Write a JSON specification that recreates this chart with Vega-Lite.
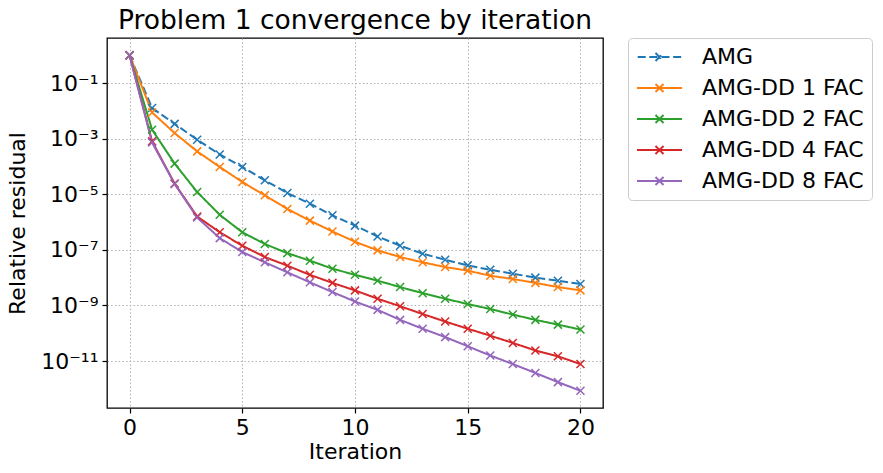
{
  "$schema": "https://vega.github.io/schema/vega-lite/v6.json",
  "width": 496,
  "height": 370,
  "autosize": {"type": "none"},
  "padding": {"left": 107, "top": 38, "right": 280, "bottom": 65},
  "background": "white",
  "title": {"text": "Problem 1 convergence by iteration", "fontSize": 26.5, "font": "DejaVu Sans", "fontWeight": "normal", "color": "black", "offset": 3, "anchor": "middle"},
  "config": {
    "font": "DejaVu Sans",
    "view": {"stroke": "black", "strokeWidth": 1.3},
    "axis": {
      "domain": false,
      "grid": true,
      "gridColor": "#b0b0b0",
      "gridDash": [1.5, 2.2],
      "gridWidth": 1,
      "tickColor": "black",
      "tickSize": 5,
      "tickWidth": 1.2,
      "labelFont": "DejaVu Sans",
      "labelFontSize": 22,
      "labelColor": "black",
      "titleFont": "DejaVu Sans",
      "titleFontSize": 22,
      "titleFontWeight": "normal",
      "titleColor": "black",
      "labelPadding": 4
    },
    "legend": {
      "orient": "none",
      "legendX": 521,
      "legendY": 0,
      "labelFont": "DejaVu Sans",
      "labelFontSize": 22,
      "labelColor": "black",
      "labelLimit": 400,
      "padding": 8,
      "rowPadding": 9,
      "strokeColor": "#cccccc",
      "cornerRadius": 4,
      "fillColor": "white",
      "symbolSize": 400,
      "symbolStrokeWidth": 2,
      "symbolFillColor": "transparent",
      "labelOffset": 44
    }
  },
  "data": {
    "values": [
      {"iteration": 0, "method": "AMG", "residual": 1},
      {"iteration": 1, "method": "AMG", "residual": 1.26e-2},
      {"iteration": 2, "method": "AMG", "residual": 3.39e-3},
      {"iteration": 3, "method": "AMG", "residual": 9.12e-4},
      {"iteration": 4, "method": "AMG", "residual": 2.69e-4},
      {"iteration": 5, "method": "AMG", "residual": 9.55e-5},
      {"iteration": 6, "method": "AMG", "residual": 3.16e-5},
      {"iteration": 7, "method": "AMG", "residual": 1.10e-5},
      {"iteration": 8, "method": "AMG", "residual": 4.57e-6},
      {"iteration": 9, "method": "AMG", "residual": 1.74e-6},
      {"iteration": 10, "method": "AMG", "residual": 7.41e-7},
      {"iteration": 11, "method": "AMG", "residual": 3.02e-7},
      {"iteration": 12, "method": "AMG", "residual": 1.41e-7},
      {"iteration": 13, "method": "AMG", "residual": 7.24e-8},
      {"iteration": 14, "method": "AMG", "residual": 4.37e-8},
      {"iteration": 15, "method": "AMG", "residual": 2.75e-8},
      {"iteration": 16, "method": "AMG", "residual": 1.91e-8},
      {"iteration": 17, "method": "AMG", "residual": 1.38e-8},
      {"iteration": 18, "method": "AMG", "residual": 1.00e-8},
      {"iteration": 19, "method": "AMG", "residual": 7.76e-9},
      {"iteration": 20, "method": "AMG", "residual": 5.89e-9},
      {"iteration": 0, "method": "AMG-DD 1 FAC", "residual": 1},
      {"iteration": 1, "method": "AMG-DD 1 FAC", "residual": 8.71e-3},
      {"iteration": 2, "method": "AMG-DD 1 FAC", "residual": 1.58e-3},
      {"iteration": 3, "method": "AMG-DD 1 FAC", "residual": 3.47e-4},
      {"iteration": 4, "method": "AMG-DD 1 FAC", "residual": 9.55e-5},
      {"iteration": 5, "method": "AMG-DD 1 FAC", "residual": 2.75e-5},
      {"iteration": 6, "method": "AMG-DD 1 FAC", "residual": 9.12e-6},
      {"iteration": 7, "method": "AMG-DD 1 FAC", "residual": 2.95e-6},
      {"iteration": 8, "method": "AMG-DD 1 FAC", "residual": 1.12e-6},
      {"iteration": 9, "method": "AMG-DD 1 FAC", "residual": 4.57e-7},
      {"iteration": 10, "method": "AMG-DD 1 FAC", "residual": 1.95e-7},
      {"iteration": 11, "method": "AMG-DD 1 FAC", "residual": 9.55e-8},
      {"iteration": 12, "method": "AMG-DD 1 FAC", "residual": 5.50e-8},
      {"iteration": 13, "method": "AMG-DD 1 FAC", "residual": 3.55e-8},
      {"iteration": 14, "method": "AMG-DD 1 FAC", "residual": 2.40e-8},
      {"iteration": 15, "method": "AMG-DD 1 FAC", "residual": 1.78e-8},
      {"iteration": 16, "method": "AMG-DD 1 FAC", "residual": 1.17e-8},
      {"iteration": 17, "method": "AMG-DD 1 FAC", "residual": 8.91e-9},
      {"iteration": 18, "method": "AMG-DD 1 FAC", "residual": 6.46e-9},
      {"iteration": 19, "method": "AMG-DD 1 FAC", "residual": 4.57e-9},
      {"iteration": 20, "method": "AMG-DD 1 FAC", "residual": 3.47e-9},
      {"iteration": 0, "method": "AMG-DD 2 FAC", "residual": 1},
      {"iteration": 1, "method": "AMG-DD 2 FAC", "residual": 2.09e-3},
      {"iteration": 2, "method": "AMG-DD 2 FAC", "residual": 1.26e-4},
      {"iteration": 3, "method": "AMG-DD 2 FAC", "residual": 1.20e-5},
      {"iteration": 4, "method": "AMG-DD 2 FAC", "residual": 1.82e-6},
      {"iteration": 5, "method": "AMG-DD 2 FAC", "residual": 4.27e-7},
      {"iteration": 6, "method": "AMG-DD 2 FAC", "residual": 1.62e-7},
      {"iteration": 7, "method": "AMG-DD 2 FAC", "residual": 7.59e-8},
      {"iteration": 8, "method": "AMG-DD 2 FAC", "residual": 4.07e-8},
      {"iteration": 9, "method": "AMG-DD 2 FAC", "residual": 2.09e-8},
      {"iteration": 10, "method": "AMG-DD 2 FAC", "residual": 1.26e-8},
      {"iteration": 11, "method": "AMG-DD 2 FAC", "residual": 7.76e-9},
      {"iteration": 12, "method": "AMG-DD 2 FAC", "residual": 4.57e-9},
      {"iteration": 13, "method": "AMG-DD 2 FAC", "residual": 2.75e-9},
      {"iteration": 14, "method": "AMG-DD 2 FAC", "residual": 1.74e-9},
      {"iteration": 15, "method": "AMG-DD 2 FAC", "residual": 1.12e-9},
      {"iteration": 16, "method": "AMG-DD 2 FAC", "residual": 7.41e-10},
      {"iteration": 17, "method": "AMG-DD 2 FAC", "residual": 4.68e-10},
      {"iteration": 18, "method": "AMG-DD 2 FAC", "residual": 3.02e-10},
      {"iteration": 19, "method": "AMG-DD 2 FAC", "residual": 2.04e-10},
      {"iteration": 20, "method": "AMG-DD 2 FAC", "residual": 1.35e-10},
      {"iteration": 0, "method": "AMG-DD 4 FAC", "residual": 1},
      {"iteration": 1, "method": "AMG-DD 4 FAC", "residual": 7.94e-4},
      {"iteration": 2, "method": "AMG-DD 4 FAC", "residual": 2.40e-5},
      {"iteration": 3, "method": "AMG-DD 4 FAC", "residual": 1.58e-6},
      {"iteration": 4, "method": "AMG-DD 4 FAC", "residual": 4.27e-7},
      {"iteration": 5, "method": "AMG-DD 4 FAC", "residual": 1.41e-7},
      {"iteration": 6, "method": "AMG-DD 4 FAC", "residual": 5.50e-8},
      {"iteration": 7, "method": "AMG-DD 4 FAC", "residual": 2.69e-8},
      {"iteration": 8, "method": "AMG-DD 4 FAC", "residual": 1.26e-8},
      {"iteration": 9, "method": "AMG-DD 4 FAC", "residual": 6.46e-9},
      {"iteration": 10, "method": "AMG-DD 4 FAC", "residual": 3.47e-9},
      {"iteration": 11, "method": "AMG-DD 4 FAC", "residual": 1.74e-9},
      {"iteration": 12, "method": "AMG-DD 4 FAC", "residual": 9.33e-10},
      {"iteration": 13, "method": "AMG-DD 4 FAC", "residual": 4.90e-10},
      {"iteration": 14, "method": "AMG-DD 4 FAC", "residual": 2.63e-10},
      {"iteration": 15, "method": "AMG-DD 4 FAC", "residual": 1.45e-10},
      {"iteration": 16, "method": "AMG-DD 4 FAC", "residual": 8.13e-11},
      {"iteration": 17, "method": "AMG-DD 4 FAC", "residual": 4.47e-11},
      {"iteration": 18, "method": "AMG-DD 4 FAC", "residual": 2.40e-11},
      {"iteration": 19, "method": "AMG-DD 4 FAC", "residual": 1.48e-11},
      {"iteration": 20, "method": "AMG-DD 4 FAC", "residual": 7.76e-12},
      {"iteration": 0, "method": "AMG-DD 8 FAC", "residual": 1},
      {"iteration": 1, "method": "AMG-DD 8 FAC", "residual": 7.24e-4},
      {"iteration": 2, "method": "AMG-DD 8 FAC", "residual": 2.34e-5},
      {"iteration": 3, "method": "AMG-DD 8 FAC", "residual": 1.45e-6},
      {"iteration": 4, "method": "AMG-DD 8 FAC", "residual": 2.63e-7},
      {"iteration": 5, "method": "AMG-DD 8 FAC", "residual": 8.32e-8},
      {"iteration": 6, "method": "AMG-DD 8 FAC", "residual": 3.55e-8},
      {"iteration": 7, "method": "AMG-DD 8 FAC", "residual": 1.55e-8},
      {"iteration": 8, "method": "AMG-DD 8 FAC", "residual": 6.76e-9},
      {"iteration": 9, "method": "AMG-DD 8 FAC", "residual": 3.02e-9},
      {"iteration": 10, "method": "AMG-DD 8 FAC", "residual": 1.38e-9},
      {"iteration": 11, "method": "AMG-DD 8 FAC", "residual": 6.92e-10},
      {"iteration": 12, "method": "AMG-DD 8 FAC", "residual": 3.02e-10},
      {"iteration": 13, "method": "AMG-DD 8 FAC", "residual": 1.45e-10},
      {"iteration": 14, "method": "AMG-DD 8 FAC", "residual": 7.24e-11},
      {"iteration": 15, "method": "AMG-DD 8 FAC", "residual": 3.39e-11},
      {"iteration": 16, "method": "AMG-DD 8 FAC", "residual": 1.58e-11},
      {"iteration": 17, "method": "AMG-DD 8 FAC", "residual": 7.76e-12},
      {"iteration": 18, "method": "AMG-DD 8 FAC", "residual": 3.72e-12},
      {"iteration": 19, "method": "AMG-DD 8 FAC", "residual": 1.74e-12},
      {"iteration": 20, "method": "AMG-DD 8 FAC", "residual": 8.51e-13}
    ]
  },
  "encoding": {
    "x": {
      "field": "iteration",
      "type": "quantitative",
      "scale": {"domain": [-1, 21], "nice": false, "zero": false},
      "axis": {"values": [0, 5, 10, 15, 20], "title": "Iteration", "titlePadding": 3}
    },
    "y": {
      "field": "residual",
      "type": "quantitative",
      "scale": {"type": "log", "domain": [2.04e-13, 4.16], "nice": false},
      "axis": {
        "values": [1e-1, 1e-3, 1e-5, 1e-7, 1e-9, 1e-11],
        "title": "Relative residual",
        "titlePadding": 11,
        "labelExpr": "datum.value >= 0.09 ? '10⁻¹' : datum.value >= 9e-4 ? '10⁻³' : datum.value >= 9e-6 ? '10⁻⁵' : datum.value >= 9e-8 ? '10⁻⁷' : datum.value >= 9e-10 ? '10⁻⁹' : '10⁻¹¹'"
      }
    },
    "color": {
      "field": "method",
      "type": "nominal",
      "scale": {
        "domain": ["AMG", "AMG-DD 1 FAC", "AMG-DD 2 FAC", "AMG-DD 4 FAC", "AMG-DD 8 FAC"],
        "range": ["#1f77b4", "#ff7f0e", "#2ca02c", "#d62728", "#9467bd"]
      },
      "legend": {
        "title": null,
        "symbolType": "M-1,0L3.5,0M0.85,-0.4L1.65,0.4M0.85,0.4L1.65,-0.4",
        "encode": {
          "symbols": {
            "update": {
              "shape": {"signal": "datum.label === 'AMG' ? 'M-0.93,0L-0.1,0M0.23,0L1.07,0M1.45,0L2.28,0M2.62,0L3.42,0M0.85,-0.4L1.65,0.4M0.85,0.4L1.65,-0.4' : 'M-1,0L3.5,0M0.85,-0.4L1.65,0.4M0.85,0.4L1.65,-0.4'"}
            }
          }
        }
      }
    }
  },
  "layer": [
    {
      "mark": {"type": "line", "strokeWidth": 2},
      "encoding": {
        "strokeDash": {
          "field": "method",
          "type": "nominal",
          "scale": {
            "domain": ["AMG", "AMG-DD 1 FAC", "AMG-DD 2 FAC", "AMG-DD 4 FAC", "AMG-DD 8 FAC"],
            "range": [[8, 3.5], [1, 0], [1, 0], [1, 0], [1, 0]]
          },
          "legend": null
        }
      }
    },
    {
      "mark": {"type": "point", "shape": "M-1,-1L1,1M-1,1L1,-1", "filled": false, "strokeWidth": 1.5, "size": 64, "opacity": 1}
    }
  ]
}
